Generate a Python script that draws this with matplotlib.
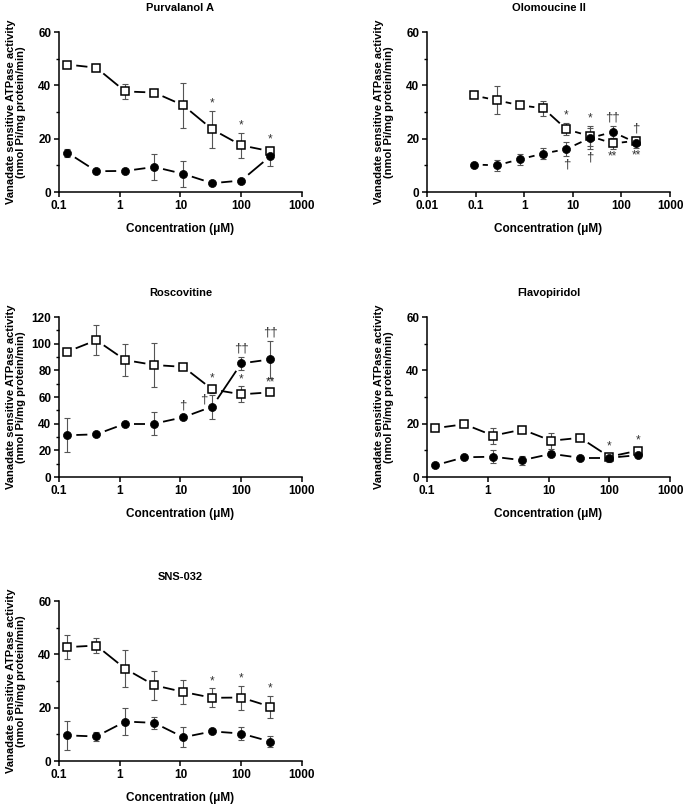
import numpy as np
import matplotlib.pyplot as plt
from matplotlib.ticker import FixedLocator, FixedFormatter, MultipleLocator, NullLocator

plt.rcParams["font.family"] = ["Liberation Sans", "DejaVu Sans"]

# ---------------------------------------------------------------------------
# Data
# ---------------------------------------------------------------------------

# 3-fold dilution series (uM)
conc_std = [0.137, 0.412, 1.23, 3.70, 11.1, 33.3, 100, 300]
conc_olo = [0.0914, 0.274, 0.823, 2.47, 7.41, 22.2, 66.7, 200]

xticks_std = [0.1, 1, 10, 100, 1000]
xticklabels_std = ["0.1", "1", "10", "100", "1000"]
xticks_olo = [0.01, 0.1, 1, 10, 100, 1000]
xticklabels_olo = ["0.01", "0.1", "1", "10", "100", "1000"]

# Purvalanol A
purv_sq = [47.8, 46.6, 37.7, 37.3, 32.5, 23.5, 17.5, 15.3]
purv_sq_err = [0.8, 0.8, 2.9, 0.8, 8.5, 7.0, 4.7, 1.5]
purv_ci = [14.8, 7.8, 7.9, 9.4, 6.8, 3.3, 4.3, 13.4]
purv_ci_err = [1.5, 0.5, 0.5, 5.0, 5.0, 0.5, 0.5, 3.5]

# Olomoucine II
olo_sq = [36.2, 34.4, 32.5, 31.4, 23.5, 21.0, 18.2, 19.2]
olo_sq_err = [0.5, 5.2, 0.5, 2.9, 2.3, 3.7, 2.1, 1.0]
olo_ci = [10.3, 10.0, 12.3, 14.4, 16.1, 20.2, 22.5, 18.5]
olo_ci_err = [0.5, 2.0, 2.0, 2.1, 2.5, 3.9, 2.3, 2.0]

# Roscovitine
rosc_sq = [94.0, 102.6, 87.7, 84.0, 82.6, 65.7, 62.0, 63.5]
rosc_sq_err = [1.0, 11.3, 12.1, 16.2, 1.0, 3.0, 6.0, 2.0]
rosc_ci = [31.3, 32.0, 40.0, 40.0, 44.8, 52.8, 85.2, 88.2]
rosc_ci_err = [12.8, 1.0, 1.0, 8.8, 1.0, 9.0, 4.8, 13.7]

# Flavopiridol
flavo_sq = [18.3, 19.8, 15.5, 17.8, 13.6, 14.7, 7.6, 9.9]
flavo_sq_err = [0.5, 1.0, 3.0, 0.5, 3.0, 0.5, 1.0, 1.0]
flavo_ci = [4.4, 7.4, 7.6, 6.3, 8.7, 7.2, 7.2, 8.2]
flavo_ci_err = [0.5, 0.5, 2.4, 1.7, 1.0, 0.5, 1.7, 0.5]

# SNS-032
sns_sq = [42.7, 43.3, 34.6, 28.4, 25.9, 23.7, 23.8, 20.4]
sns_sq_err = [4.4, 2.8, 6.9, 5.5, 4.5, 3.5, 4.5, 4.1]
sns_ci = [9.6, 9.2, 14.8, 14.3, 8.9, 11.1, 10.3, 7.3]
sns_ci_err = [5.5, 1.8, 5.0, 2.2, 3.7, 0.5, 2.3, 2.2]

# Significance marks: (series, point index, text, anchor, dx_pt, dy_pt)
# anchor: "top" = above upper error cap, "bottom" = below lower cap,
#         "point" = relative to the mean itself
DAG, DDAG = "\u2020", "\u2020\u2020"
purv_marks = [("sq", 5, "*", "top", 0, 1), ("sq", 6, "*", "top", 0, 1),
              ("sq", 7, "*", "top", 0, 1)]
olo_marks = [
    ("sq", 4, "*", "top", 0, 1), ("sq", 5, "*", "top", 0, 1),
    ("ci", 6, DDAG, "top", 0, 2), ("ci", 7, DAG, "top", 0, 2),
    ("sq", 6, "**", "bottom", 0, -1), ("ci", 7, "**", "bottom", 0, -1),
    ("ci", 4, DAG, "bottom", 0, -2), ("ci", 5, DAG, "bottom", 0, -2),
]
rosc_marks = [
    ("sq", 5, "*", "top", 0, 1), ("sq", 6, "*", "top", 0, 1),
    ("sq", 7, "**", "top", 0, 1),
    ("ci", 4, DAG, "top", 0, 3), ("ci", 5, DAG, "point", -6, 1),
    ("ci", 6, DDAG, "top", 0, 2), ("ci", 7, DDAG, "top", 0, 2),
]
flavo_marks = [("sq", 6, "*", "top", 0, 1), ("sq", 7, "*", "top", 0, 1)]
sns_marks = [("sq", 5, "*", "top", 0, 1), ("sq", 6, "*", "top", 0, 1),
             ("sq", 7, "*", "top", 0, 1)]

# ---------------------------------------------------------------------------
# Layout (pixel boxes from the reference)
# ---------------------------------------------------------------------------

FIG_W, FIG_H = 683, 805
PLOT_W, PLOT_H = 243, 160
COL_X = [59, 427]
ROW_TOP = [32, 317, 601]

YLABEL = "Vanadate sensitive ATPase activity\n(nmol Pi/mg protein/min)"
XLABEL = "Concentration (\u03bcM)"
ERR_COLOR = "#555555"
MARK_COLOR = "#333333"
FS = 8.5
SEG_GAP_PX = 9.0   # blank pixels between a marker centre and its link line


def _axes_rect(col: int, row: int) -> list[float]:
    left = COL_X[col] / FIG_W
    bottom = 1 - (ROW_TOP[row] + PLOT_H) / FIG_H
    return [left, bottom, PLOT_W / FIG_W, PLOT_H / FIG_H]


def _link_points(ax, xs, ys):
    """Join consecutive points with segments that stop short of the markers."""
    pts = ax.transData.transform(np.column_stack([xs, ys]))
    inv = ax.transData.inverted()
    for p0, p1 in zip(pts[:-1], pts[1:]):
        vec = p1 - p0
        length = np.hypot(*vec)
        if length <= 2 * SEG_GAP_PX + 2:
            continue
        unit = vec / length
        a = inv.transform(p0 + unit * SEG_GAP_PX)
        b = inv.transform(p1 - unit * SEG_GAP_PX)
        ax.plot([a[0], b[0]], [a[1], b[1]], color="black", lw=1.3,
                solid_capstyle="butt", zorder=3)


def draw_panel(fig, rect, title, conc, sq, sq_err, ci, ci_err, marks,
               xlim, xticks, xticklabels, ymax, ystep):
    ax = fig.add_axes(rect)
    ax.set_xscale("log")
    ax.set_xlim(*xlim)
    ax.set_ylim(0, ymax)

    for y, err in ((sq, sq_err), (ci, ci_err)):
        ax.errorbar(conc, y, yerr=err, fmt="none", ecolor=ERR_COLOR,
                    elinewidth=0.8, capsize=2.2, capthick=0.8, zorder=2)
        _link_points(ax, conc, y)

    ax.plot(conc, sq, "s", ms=5.8, mfc="white", mec="black", mew=1.1, zorder=4)
    ax.plot(conc, ci, "o", ms=5.8, mfc="black", mec="black", mew=0.5, zorder=5)

    series = {"sq": (sq, sq_err), "ci": (ci, ci_err)}
    for key, idx, text, anchor, dx, dy in marks:
        vals, errs = series[key]
        if anchor == "top":
            y0, va = vals[idx] + errs[idx], "bottom"
        elif anchor == "bottom":
            y0, va = vals[idx] - errs[idx], "top"
        else:
            y0, va = vals[idx], "bottom"
        size = 9.5 if DAG in text else FS
        ax.annotate(
            text, xy=(conc[idx], y0), xytext=(dx, dy),
            textcoords="offset points", ha="center", va=va,
            fontsize=size, color=MARK_COLOR, zorder=6,
        )

    ax.xaxis.set_major_locator(FixedLocator(xticks))
    ax.xaxis.set_major_formatter(FixedFormatter(xticklabels))
    ax.xaxis.set_minor_locator(NullLocator())
    ax.yaxis.set_major_locator(MultipleLocator(ystep))
    ax.yaxis.set_minor_locator(MultipleLocator(ystep / 2))

    for side in ("top", "right"):
        ax.spines[side].set_visible(False)
    for side in ("left", "bottom"):
        ax.spines[side].set_linewidth(1.1)
    ax.tick_params(which="major", length=3.5, width=1.1, labelsize=FS, pad=2)
    ax.tick_params(which="minor", length=2, width=1.0)
    for lbl in ax.get_xticklabels() + ax.get_yticklabels():
        lbl.set_fontweight("bold")

    ax.set_title(title, fontsize=8, fontweight="bold", pad=15)
    ax.set_xlabel(XLABEL, fontsize=FS, fontweight="bold", labelpad=8)
    ax.set_ylabel(YLABEL, fontsize=8, fontweight="bold", linespacing=1.05)
    ax.yaxis.set_label_coords(-0.135, 0.5)
    return ax


def main() -> None:
    fig = plt.figure(figsize=(FIG_W / 100, FIG_H / 100), dpi=100)
    fig.patch.set_facecolor("white")

    std = dict(xlim=(0.1, 1000), xticks=xticks_std, xticklabels=xticklabels_std)

    draw_panel(fig, _axes_rect(0, 0), "Purvalanol A", conc_std,
               purv_sq, purv_sq_err, purv_ci, purv_ci_err, purv_marks,
               ymax=60, ystep=20, **std)
    draw_panel(fig, _axes_rect(1, 0), "Olomoucine II", conc_olo,
               olo_sq, olo_sq_err, olo_ci, olo_ci_err, olo_marks,
               xlim=(0.01, 1000), xticks=xticks_olo,
               xticklabels=xticklabels_olo, ymax=60, ystep=20)
    draw_panel(fig, _axes_rect(0, 1), "Roscovitine", conc_std,
               rosc_sq, rosc_sq_err, rosc_ci, rosc_ci_err, rosc_marks,
               ymax=120, ystep=20, **std)
    draw_panel(fig, _axes_rect(1, 1), "Flavopiridol", conc_std,
               flavo_sq, flavo_sq_err, flavo_ci, flavo_ci_err, flavo_marks,
               ymax=60, ystep=20, **std)
    draw_panel(fig, _axes_rect(0, 2), "SNS-032", conc_std,
               sns_sq, sns_sq_err, sns_ci, sns_ci_err, sns_marks,
               ymax=60, ystep=20, **std)

    fig.savefig("out.png", dpi=100, facecolor="white")
    plt.close(fig)


if __name__ == "__main__":
    main()
